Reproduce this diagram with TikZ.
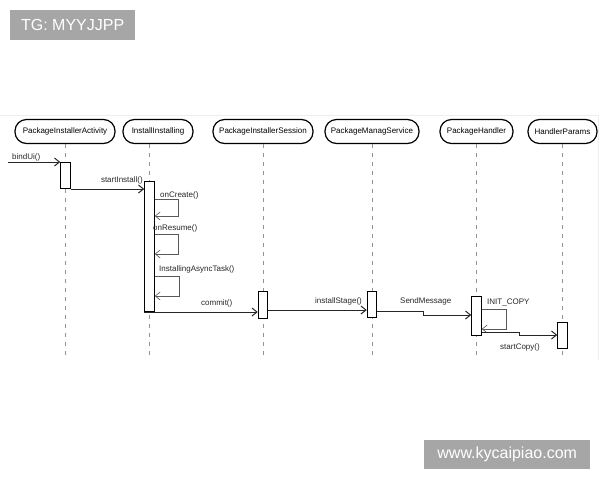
\documentclass[tikz,border=0pt]{standalone}
\usepackage{fontspec}
\setmainfont{Liberation Sans}
\usepackage{tikz}
\usetikzlibrary{positioning, arrows.meta, calc}
\usepackage{xcolor}
\definecolor{wmgray}{HTML}{A6A6A6}
\definecolor{framegray}{HTML}{EEEEEE}

\begin{document}
\begin{tikzpicture}[x=1pt, y=-1pt, font=\fontsize{8}{9}\selectfont,
        hdr/.style={draw, line width=1.2pt, rounded corners=11.5pt, minimum width=#1, minimum height=24pt, inner sep=0pt, fill=white},
        bar/.style={draw, line width=1pt, fill=white, minimum width=9.5pt, minimum height=#1, inner sep=0pt, anchor=north},
        lifeline/.style={gray!85, line width=0.8pt, dash pattern=on 4pt off 5pt},
        msg/.style={-{Straight Barb[length=5pt, width=8pt]}, line width=1pt, black!85},
        selfmsg/.style={-{Straight Barb[length=5pt, width=8pt]}, line width=0.6pt, black!65},
        lbl/.style={inner sep=0pt, anchor=base west, text=black!85},
        wm/.style={fill=wmgray, text=white, inner sep=0pt, anchor=north west, font=\fontsize{16}{18}\selectfont}]

        \useasboundingbox (0,0) rectangle (600,480);

        % рамка скриншота
        \draw[framegray, line width=1pt] (0,115) -- (598,115) -- (598,360);

        % заголовки линий жизни
        \node[hdr=100pt] (act) at (65,131.5)  {PackageInstallerActivity};
        \node[hdr=70pt]  (ii)  at (158,131.5) {InstallInstalling};
        \node[hdr=100pt] (pis) at (263,131.5) {PackageInstallerSession};
        \node[hdr=94pt]  (pms) at (372,131.5) {PackageManagService};
        \node[hdr=73pt]  (ph)  at (476.5,131.5) {PackageHandler};
        \node[hdr=69pt]  (hp)  at (562.5,131.5) {HandlerParams};

        % линии жизни
        \coordinate (bot) at (0,355);
        \coordinate (ii-top) at (149,143.5);
        \draw[lifeline] (act.south) -- (act.south |- bot);
        \draw[lifeline] (ii-top) -- (ii-top |- bot);
        \draw[lifeline] (pis.south) -- (pis.south |- bot);
        \draw[lifeline] (pms.south) -- (pms.south |- bot);
        \draw[lifeline] (ph.south) -- (ph.south |- bot);
        \draw[lifeline] (hp.south) -- (hp.south |- bot);

        % активации
        \node[bar=26pt]  (actbar) at (65.5,162) {};
        \node[bar=130pt] (iibar)  at (149.5,181) {};
        \node[bar=27pt]  (pisbar) at (263,291) {};
        \node[bar=26pt]  (pmsbar) at (372,291) {};
        \node[bar=39pt]  (phbar)  at (476.5,296) {};
        \node[bar=26pt]  (hpbar)  at (562.5,322) {};

        % уровни сообщений
        \coordinate (in)      at (8,162);
        \coordinate (y-stage) at (0,310);
        \coordinate (y-send)  at (0,311);
        \coordinate (y-send2) at (0,315);
        \coordinate (y-copy)  at (0,332);
        \coordinate (y-copy2) at (0,335);

        % сообщения
        \draw[msg] (in) -- (actbar.north west);
        \node[lbl] at (12,159) {bindUi()};

        \draw[msg] (actbar.south east) -- (actbar.south east -| iibar.west);
        \node[lbl, anchor=base east] at (143,182) {startInstall()};

        \draw[selfmsg] ($(iibar.north east)+(0,18)$) -- ++(24,0) -- ++(0,17) -- ++(-24,0);
        \node[lbl] at (160,197) {onCreate()};

        \draw[selfmsg] ($(iibar.north east)+(0,53)$) -- ++(24,0) -- ++(0,20) -- ++(-24,0);
        \node[lbl] at (153,230) {onResume()};

        \draw[selfmsg] ($(iibar.north east)+(0,95)$) -- ++(25,0) -- ++(0,20) -- ++(-25,0);
        \node[lbl] at (159,271) {InstallingAsyncTask()};

        \draw[msg] (iibar.south west) -- (iibar.south west -| pisbar.west);
        \node[lbl] at (201,305) {commit()};

        \draw[msg] (pisbar.east |- y-stage) -- (pmsbar.west |- y-stage);
        \node[lbl] at (315,303) {installStage()};

        \draw[msg] (pmsbar.east |- y-send) -- ++(46,0) |- (phbar.west |- y-send2);
        \node[lbl] at (400,303) {SendMessage};

        \draw[selfmsg] ($(phbar.north east)+(0,13)$) -- ++(25,0) -- ++(0,20) -- ++(-25,0);
        \node[lbl] at (487,304) {INIT\_COPY};

        \draw[msg] (phbar.east |- y-copy) -- ++(38,0) |- (hpbar.west |- y-copy2);
        \node[lbl] at (500,349) {startCopy()};

        % водяные знаки
        \node[wm, minimum width=125pt, minimum height=30pt] (tg)   at (10,10)   {TG: MYYJJPP};
        \node[wm, minimum width=166pt, minimum height=29pt] (site) at (424,440) {www.kycaipiao.com};
    \end{tikzpicture}
\end{document}
